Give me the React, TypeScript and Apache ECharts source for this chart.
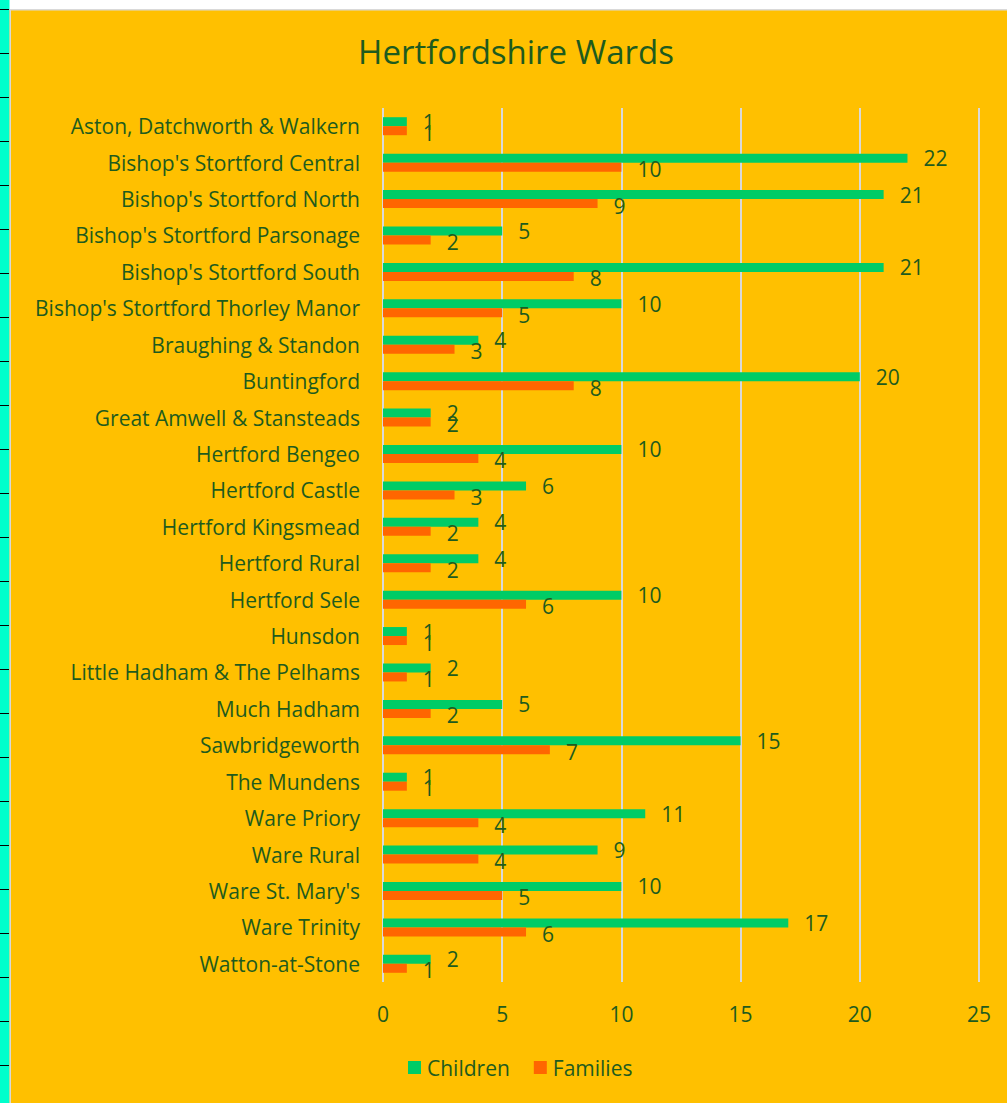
import React, { useEffect, useRef } from "react";
import * as echarts from "echarts";

const wards = [
  "Aston, Datchworth & Walkern",
  "Bishop's Stortford Central",
  "Bishop's Stortford North",
  "Bishop's Stortford Parsonage",
  "Bishop's Stortford South",
  "Bishop's Stortford Thorley Manor",
  "Braughing & Standon",
  "Buntingford",
  "Great Amwell & Stansteads",
  "Hertford Bengeo",
  "Hertford Castle",
  "Hertford Kingsmead",
  "Hertford Rural",
  "Hertford Sele",
  "Hunsdon",
  "Little Hadham & The Pelhams",
  "Much Hadham",
  "Sawbridgeworth",
  "The Mundens",
  "Ware Priory",
  "Ware Rural",
  "Ware St. Mary's",
  "Ware Trinity",
  "Watton-at-Stone",
];
const children = [1, 22, 21, 5, 21, 10, 4, 20, 2, 10, 6, 4, 4, 10, 1, 2, 5, 15, 1, 11, 9, 10, 17, 2];
const families = [1, 10, 9, 2, 8, 5, 3, 8, 2, 4, 3, 2, 2, 6, 1, 1, 2, 7, 1, 4, 4, 5, 6, 1];
const xTicks = [0, 5, 10, 15, 20, 25];

const TEXT = "#1E5B1E";
const FONT = "Open Sans, Liberation Sans, sans-serif";
const FS = 21;

export default function App() {
  const ref = useRef<HTMLDivElement>(null);
  useEffect(() => {
    const chart = echarts.init(ref.current!, null, { renderer: "svg" });
    const ticks: any[] = [];
    for (let k = 0; k < 25; k++) {
      const y = 9.5 + 44 * k;
      if (y > 1103) break;
      ticks.push({
        type: "line",
        shape: { x1: 0, y1: y, x2: 9, y2: y },
        style: { stroke: "#000", lineWidth: 1 },
        silent: true,
      });
    }
    chart.setOption({
      animation: false,
      backgroundColor: "#FFC000",
      textStyle: { fontFamily: FONT },
      title: {
        text: "Hertfordshire Wards",
        left: 511,
        top: 30,
        textAlign: "center",
        textStyle: { color: TEXT, fontSize: 33, fontWeight: "normal", fontFamily: FONT },
      },
      graphic: [
        { type: "rect", shape: { x: 0, y: 0, width: 1007, height: 9 }, style: { fill: "#fff" }, silent: true },
        { type: "rect", shape: { x: 0, y: 9, width: 1007, height: 1.5 }, style: { fill: "#D9D9D9" }, silent: true },
        { type: "rect", shape: { x: 0, y: 0, width: 9.5, height: 1103 }, style: { fill: "#00FFCC" }, silent: true },
        { type: "rect", shape: { x: 9.5, y: 9, width: 1.5, height: 1094 }, style: { fill: "#D9D9D9" }, silent: true },
        ...ticks,
      ],
      legend: {
        data: ["Children", "Families"],
        left: 408,
        top: 1052,
        padding: [5, 0, 5, 0],
        itemWidth: 13,
        itemHeight: 13,
        itemGap: 24,
        icon: "rect",
        textStyle: { color: TEXT, fontSize: FS, fontFamily: FONT, padding: [0, 0, 0, 1] },
      },
      grid: { left: 383, right: 28, top: 108, bottom: 121, containLabel: false },
      xAxis: {
        type: "value",
        min: 0,
        max: 25,
        interval: 5,
        axisLine: { show: false },
        axisTick: { show: false },
        splitLine: { show: true, lineStyle: { color: "#D9D9D9", width: 2 } },
        axisLabel: {
          color: TEXT,
          fontSize: FS,
          margin: 21,
          fontFamily: FONT,
          formatter: (v: number) => (xTicks.includes(v) ? String(v) : ""),
        },
      },
      yAxis: {
        type: "category",
        data: wards,
        inverse: true,
        axisLine: { show: false },
        axisTick: { show: false },
        axisLabel: { color: TEXT, fontSize: FS, margin: 23, fontFamily: FONT },
      },
      series: [
        {
          name: "Children",
          type: "bar",
          data: children,
          barWidth: 9,
          barGap: "0%",
          itemStyle: { color: "#00CC66" },
          label: {
            show: true,
            position: "right",
            distance: 16,
            color: TEXT,
            fontSize: FS,
            fontFamily: FONT,
          },
        },
        {
          name: "Families",
          type: "bar",
          data: families,
          barWidth: 9,
          barGap: "0%",
          itemStyle: { color: "#FF6600" },
          label: {
            show: true,
            position: "right",
            distance: 16,
            offset: [0, 2],
            color: TEXT,
            fontSize: FS,
            fontFamily: FONT,
          },
        },
      ],
    });
    return () => chart.dispose();
  }, []);
  return (
    <div
      ref={ref}
      style={{ position: "fixed", left: 0, top: 0, width: 1007, height: 1103 }}
    />
  );
}
